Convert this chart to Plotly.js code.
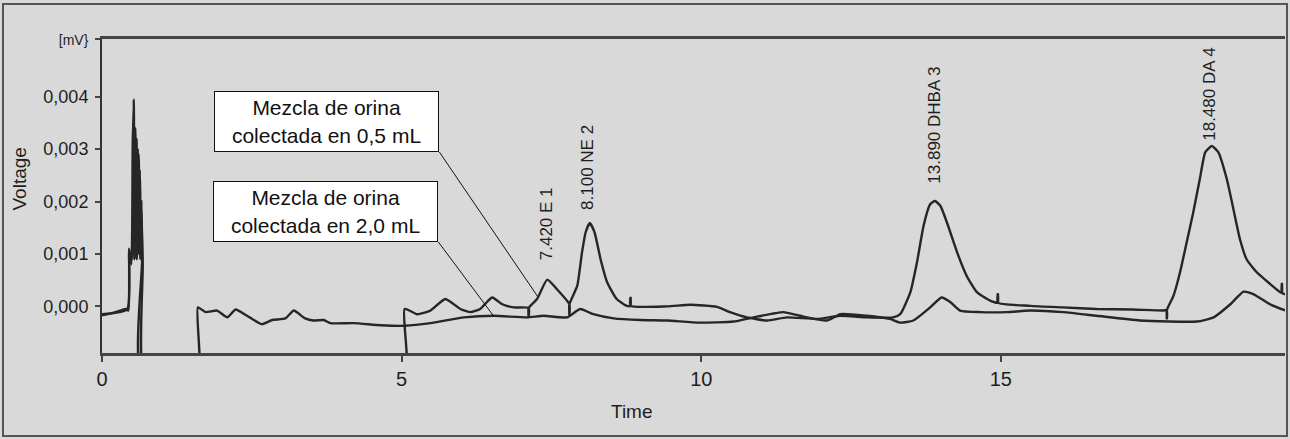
<!DOCTYPE html>
<html><head><meta charset="utf-8">
<script src="https://cdn.plot.ly/plotly-3.0.1.min.js"></script>
<style>
html,body{margin:0;padding:0;background:#d9d9d9;}
#wrap{position:relative;width:1290px;height:439px;overflow:hidden;}
#chart{width:1290px;height:439px;}
#frame{position:absolute;left:2px;top:3px;width:1282px;height:430px;border:2px solid #555;pointer-events:none;}
</style></head><body>
<div id="wrap"><div id="chart"></div><div id="frame"></div></div>
<script>
// ---- data ----
// Series 1: Mezcla de orina colectada en 0,5 mL (upper trace)
var time05 = [0.0,0.2,0.4,0.44,0.46,0.50,0.515,0.53,0.545,0.555,0.565,0.575,0.585,0.595,0.605,0.615,0.625,0.635,0.645,0.655,0.67,0.70,
  5.04,5.05,5.26,5.48,5.73,5.98,6.15,6.31,6.51,6.68,6.87,7.12,7.12,7.12,7.26,7.43,7.59,7.80,7.80,7.80,
  7.93,8.01,8.07,8.14,8.22,8.32,8.43,8.59,8.76,8.82,8.82,8.82,9.43,9.82,10.26,10.48,10.76,11.1,11.43,
  11.93,12.32,12.76,13.2,13.32,13.49,13.6,13.71,13.82,13.9,13.99,14.1,14.27,14.43,14.6,14.82,14.95,14.95,14.95,
  15.49,16.04,16.6,17.2,17.71,17.77,17.77,17.77,17.88,17.99,18.1,18.21,18.32,18.41,18.52,18.63,18.77,18.88,
  18.99,19.1,19.27,19.49,19.66,19.69,19.69,19.69,19.82];
var volt05 = [-0.00017,-0.00012,-0.00005,-0.00008,0.0010,0.0009,0.0030,0.00395,0.0012,0.0034,0.0010,0.0032,0.0011,0.0030,0.0012,0.0028,0.0010,0.0024,0.0010,0.0020,0.0009,-0.0015,
  -0.0015,-0.00005,-0.00015,-0.00008,0.00014,-0.00005,-0.00011,-0.00005,0.00017,0.00004,-0.00002,-0.00003,-0.00022,-0.00003,0.00014,0.00051,0.00033,0.00004,-0.00018,0.00004,
  0.00039,0.00103,0.00141,0.00159,0.00141,0.0009,0.00046,0.00014,0.00001,0.00001,0.00018,0.00001,0.0,0.00003,-0.00001,-0.00011,-0.00021,-0.00027,-0.00021,
  -0.00024,-0.00018,-0.00021,-0.00021,-0.00015,0.00027,0.00084,0.00154,0.00195,0.00201,0.00192,0.0016,0.00103,0.00058,0.00027,0.00011,0.00007,0.00025,0.00007,
  0.00001,-0.00002,-0.00005,-0.00006,-0.00008,-0.00007,-0.00025,-0.00007,0.0002,0.00065,0.00122,0.00179,0.00243,0.00294,0.00306,0.00294,0.00243,0.00186,
  0.00128,0.0009,0.00065,0.00043,0.00027,0.00026,0.00045,0.00026,0.0002];

// Series 2: Mezcla de orina colectada en 2,0 mL (lower trace)
var time20 = [0.0,0.42,0.45,0.49,0.52,0.54,0.55,0.56,0.57,0.58,0.59,0.60,0.61,0.62,0.63,0.64,0.66,0.68,0.72,
  1.60,1.60,1.73,1.92,2.09,2.23,2.42,2.67,2.84,3.06,3.20,3.39,3.53,3.70,3.81,4.20,4.65,5.05,5.48,6.04,6.54,
  7.09,7.37,7.76,7.98,8.20,8.54,8.98,9.43,9.97,10.54,10.87,11.37,11.65,12.1,12.32,12.76,13.15,13.32,13.54,
  13.82,14.01,14.16,14.32,14.65,15.1,15.49,16.04,16.6,17.32,18.27,18.55,18.83,19.05,19.22,19.49,19.82];
var volt20 = [-0.00015,-0.00006,0.0011,0.0008,0.0035,0.0009,0.0033,0.0011,0.0032,0.0009,0.0030,0.0012,0.0029,0.0010,0.0026,0.0009,0.0018,0.0008,-0.0015,
  -0.0015,-0.00002,-0.00011,-0.00008,-0.00021,-0.00006,-0.00018,-0.00034,-0.00026,-0.00023,-0.00008,-0.00023,-0.00027,-0.00026,-0.00032,-0.00032,-0.00036,-0.00037,-0.00032,-0.00021,-0.00018,
  -0.00021,-0.00018,-0.00021,-0.00005,-0.00015,-0.00023,-0.00026,-0.00027,-0.00031,-0.00029,-0.00021,-0.00011,-0.00018,-0.00027,-0.00015,-0.00018,-0.00024,-0.00031,-0.00027,
  -0.00002,0.00017,0.00008,-0.00008,-0.00011,-0.00011,-0.00008,-0.00011,-0.00018,-0.00027,-0.00029,-0.00021,0.00004,0.00028,0.00023,0.00004,-0.00011];

// peak annotations
var peakTimes  = [7.42, 8.10, 13.89, 18.48];
var peakLabels = ['7.420 E 1', '8.100 NE 2', '13.890 DHBA 3', '18.480 DA 4'];

// axis ticks
var yTickVals   = [0, 0.001, 0.002, 0.003, 0.004, 0.0051];
var yTickLabels = ['0,000', '0,001', '0,002', '0,003', '0,004', '<span style="font-size:14px">[mV}</span>'];
var xTickVals   = [0, 5, 10, 15];
var xTickLabels = ['0', '5', '10', '15'];

// series labels
var seriesNames = ['Mezcla de orina<br>colectada en 0,5 mL', 'Mezcla de orina<br>colectada en 2,0 mL'];

// ---- chart ----
var FONT = 'Liberation Sans, Arial, Helvetica, sans-serif';
var lineStyle = {color: '#262626', width: 2.4, shape: 'spline', smoothing: 0.5};

var traces = [
  {x: time05, y: volt05, type: 'scatter', mode: 'lines', line: lineStyle, name: seriesNames[0], hoverinfo: 'x+y'},
  {x: time20, y: volt20, type: 'scatter', mode: 'lines', line: lineStyle, name: seriesNames[1], hoverinfo: 'x+y'}
];

var L = 101.5, R = 1285, T = 39, B = 353;
function px(xp){ return (xp - L) / (R - L); }
function py(yp){ return (B - yp) / (B - T); }

var peakLabelY = [0.000845, 0.0018, 0.0023, 0.00313];
var annotations = [];
peakTimes.forEach(function(t, i){
  annotations.push({x: t, y: peakLabelY[i], xref: 'x', yref: 'y', text: peakLabels[i], showarrow: false,
    textangle: -90, xanchor: 'center', yanchor: 'bottom', font: {family: FONT, size: 17, color: '#1e1e1e'}});
});
var boxes = [
  {cx: 326.5, cy: 121.5},
  {cx: 325.5, cy: 211.5}
];
boxes.forEach(function(b, i){
  annotations.push({x: px(b.cx), y: py(b.cy), xref: 'paper', yref: 'paper', text: seriesNames[i], showarrow: false,
    xanchor: 'center', yanchor: 'middle', align: 'center', width: 223, height: 59,
    bgcolor: '#ffffff', bordercolor: '#111', borderwidth: 1, borderpad: 0,
    font: {family: FONT, size: 21, color: '#111'}});
});
annotations.push({x: px(632), y: py(411), xref: 'paper', yref: 'paper', text: 'Time', showarrow: false,
  xanchor: 'center', yanchor: 'middle', font: {family: FONT, size: 19, color: '#1e1e1e'}});
annotations.push({x: px(18), y: py(179), xref: 'paper', yref: 'paper', text: 'Voltage', showarrow: false,
  textangle: -90, xanchor: 'center', yanchor: 'middle', font: {family: FONT, size: 19, color: '#1e1e1e'}});

var shapes = [
  {type: 'line', xref: 'paper', yref: 'paper', x0: px(439), y0: py(152), x1: px(537), y1: py(296), line: {color: '#111', width: 1}},
  {type: 'line', xref: 'paper', yref: 'paper', x0: px(438), y0: py(242), x1: px(494), y1: py(317), line: {color: '#111', width: 1}}
];

var layout = {
  width: 1290, height: 439,
  margin: {l: L, r: 1290 - R, t: T, b: 439 - B, pad: 0},
  paper_bgcolor: '#d9d9d9', plot_bgcolor: '#d9d9d9',
  showlegend: false,
  font: {family: FONT, color: '#1e1e1e'},
  xaxis: {
    range: [0, (R - L) / 59.95], tickvals: xTickVals, ticktext: xTickLabels,
    showgrid: false, zeroline: false, showline: true, linecolor: '#444', linewidth: 3, mirror: true,
    ticks: 'outside', ticklen: 6, tickwidth: 2, tickcolor: '#444', ticklabelstandoff: 0,
    tickfont: {family: FONT, size: 20, color: '#1e1e1e'}
  },
  yaxis: {
    range: [-0.00089, -0.00089 + (B - T) / 52400], tickvals: yTickVals, ticktext: yTickLabels,
    showgrid: false, zeroline: false, showline: true, linecolor: '#333', linewidth: 2,
    ticks: 'outside', ticklen: 5, tickwidth: 2, tickcolor: '#444', ticklabelstandoff: 3,
    tickfont: {family: FONT, size: 18, color: '#1e1e1e'}
  },
  annotations: annotations,
  shapes: shapes
};

Plotly.newPlot('chart', traces, layout, {displayModeBar: false, staticPlot: true});
</script>
</body></html>
